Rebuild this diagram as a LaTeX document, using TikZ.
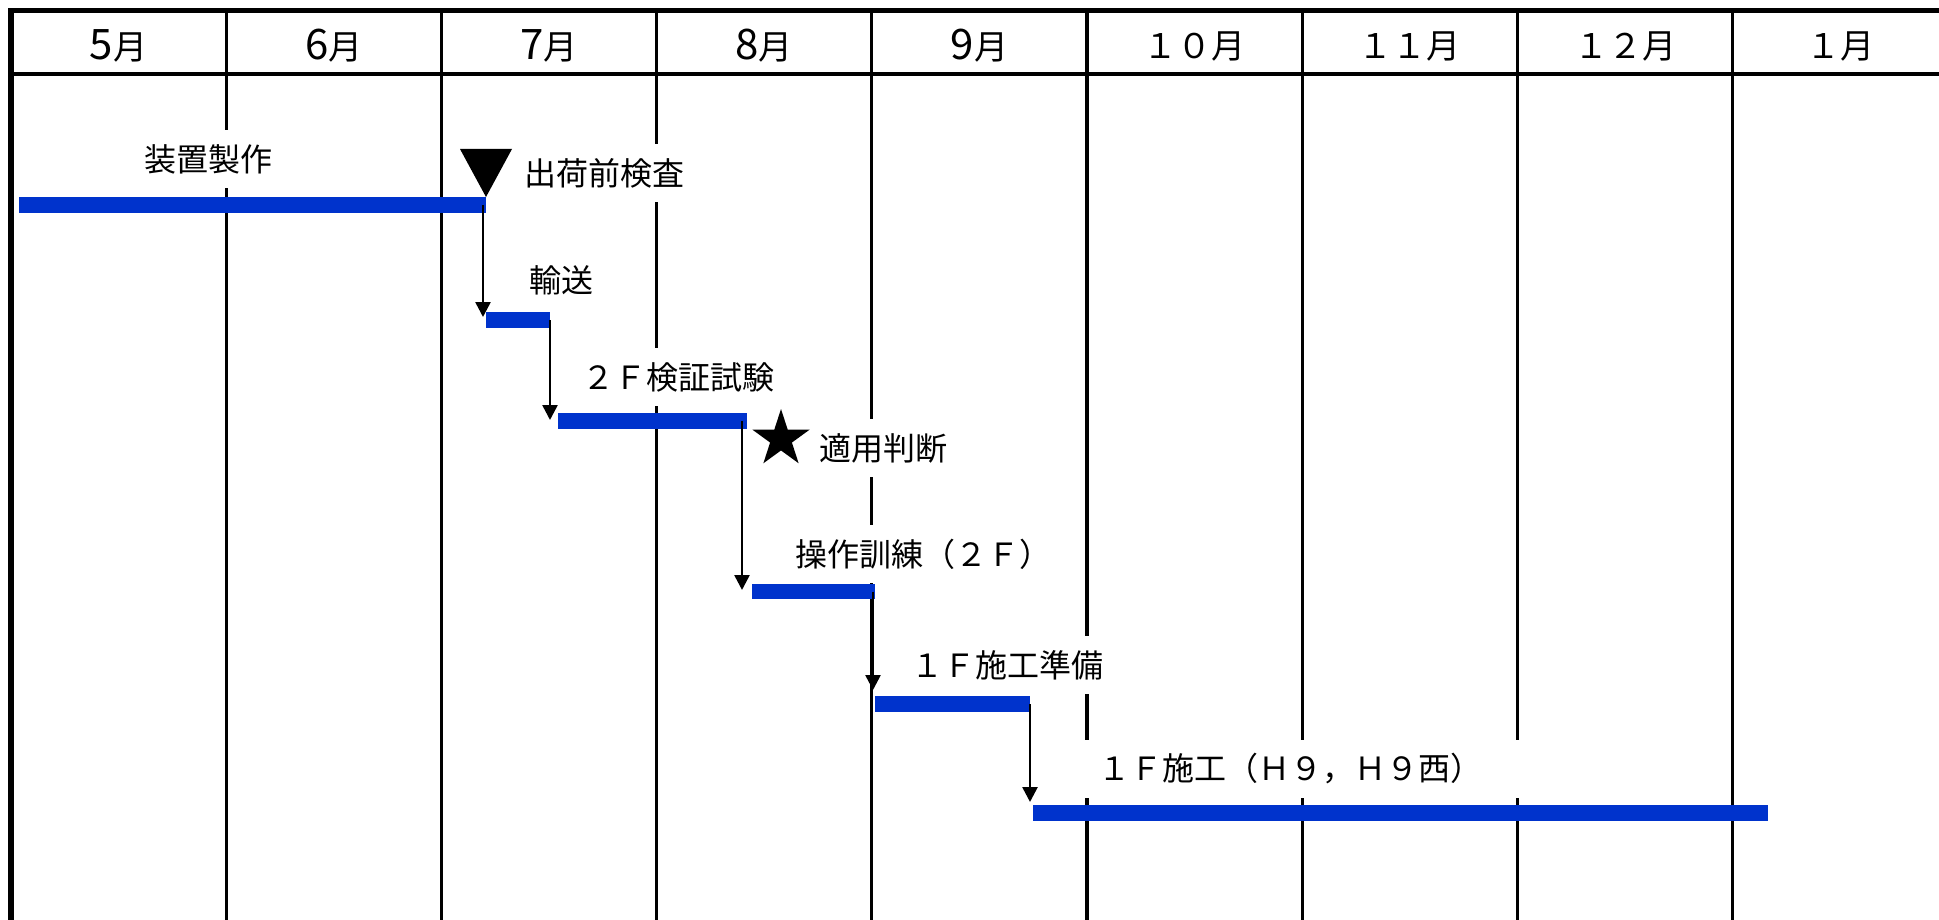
\documentclass[tikz,border=0pt]{standalone}
\usepackage{fontspec}
\setmainfont{Noto Sans CJK JP}
\usetikzlibrary{arrows.meta,shapes.geometric,calc}
\definecolor{barblue}{RGB}{0,51,204}
\newcommand\gbarnode[5]{\node[gbar, anchor=north west, minimum width={(#4-#2)*0.5pt}, minimum height={(#5-#3)*0.5pt}] (#1) at (#2,#3) {};}
\newcommand\bigdig[1]{{\fontsize{21pt}{22pt}\selectfont #1}}
\begin{document}
\begin{tikzpicture}[x=0.5pt,y=-0.5pt,
  gridline/.style={line width=1.6pt},
  txt/.style={font=\fontsize{16pt}{19pt}\selectfont, inner sep=0pt},
  month/.style={font=\fontsize{17pt}{20pt}\selectfont, inner sep=0pt},
  lbl/.style={txt, fill=white, inner xsep=10pt, inner ysep=7pt},
  gbar/.style={fill=barblue, draw=none, inner sep=0pt, outer sep=0pt},
  arr/.style={line width=1.3pt, -{Triangle[width=7.5pt,length=7.5pt]}}]
\useasboundingbox (0,0) rectangle (1939,920);
% grid
\foreach \i in {1,...,8} \draw[gridline] ({11+215.2*\i},11) -- ({11+215.2*\i},920);
\draw[line width=1.75pt] (11,74) -- (1939,74);
\draw[line width=2.5pt] (11,11) -- (1939,11);
\draw[line width=3pt] (11,8.5) -- (11,920);
% months
\foreach \m [count=\i from 0] in {\bigdig{5}月,\bigdig{6}月,\bigdig{7}月,\bigdig{8}月,\bigdig{9}月,１０月,１１月,１２月,１月}
  \node[month] (m\i) at ({11+215.2*(\i+0.5)},46) {\m};
% labels
\node[lbl] (l1) at (208,159) {装置製作};
\node[lbl] (l2) at (604,173) {出荷前検査};
\node[lbl] (l3) at (561,280) {輸送};
\node[lbl] (l4) at (678,377) {２Ｆ検証試験};
\node[lbl] (l5) at (883,448) {適用判断};
\node[lbl] (l6) at (923,554) {操作訓練（２Ｆ）};
\node[lbl] (l7) at (1007,665) {１Ｆ施工準備};
\node[lbl, inner xsep=19pt] (l8) at (1290,769) {１Ｆ施工（Ｈ９，Ｈ９西）};
% bars
\gbarnode{b1}{19}{197}{486}{213}
\gbarnode{b2}{486}{312}{550}{328}
\gbarnode{b3}{558}{413}{747}{429}
\gbarnode{b4}{752}{584}{875}{599}
\gbarnode{b5}{875}{696}{1030}{712}
\gbarnode{b6}{1033}{805}{1768}{821}
% milestones
\coordinate (tri) at (486,197);
\fill (460,149) -- (512,149) -- (tri) -- cycle;
\node[star, star points=5, star point ratio=2.618, minimum size=30pt, inner sep=0pt, fill=black] (star) at (781,439) {};
% arrows
\coordinate (t1) at (483,317);
\coordinate (t2) at (550,420);
\coordinate (t3) at (742,590);
\coordinate (t4) at (873,690);
\coordinate (t5) at (1030,802);
\draw[arr] (t1 |- b1.east) -- (t1);
\draw[arr] (t2 |- b2.east) -- (t2);
\draw[arr] (t3 |- b3.east) -- (t3);
\draw[arr] (t4 |- b4.east) -- (t4);
\draw[arr] (t5 |- b5.east) -- (t5);
\end{tikzpicture}
\end{document}
